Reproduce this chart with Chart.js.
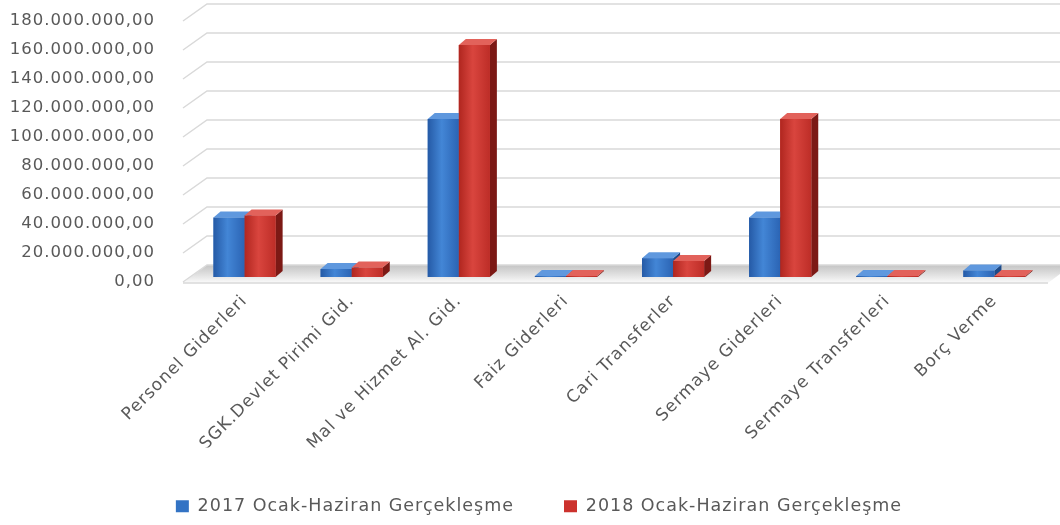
<!DOCTYPE html>
<html lang="tr">
<head>
<meta charset="utf-8">
<title>Ocak-Haziran Gerçekleşme</title>
<script src="https://cdn.jsdelivr.net/npm/chart.js@4.4.1/dist/chart.umd.min.js"></script>
<style>
  html, body { margin: 0; padding: 0; background: #fff; }
  #wrap { width: 1060px; height: 525px; }
</style>
</head>
<body>
<div id="wrap"><canvas id="giderChart"></canvas></div>
<script>
// Ekonomik sınıflandırmaya göre giderler (TL)
const categories = [
  'Personel Giderleri',
  'SGK.Devlet Pirimi Gid.',
  'Mal ve Hizmet Al. Gid.',
  'Faiz Giderleri',
  'Cari Transferler',
  'Sermaye Giderleri',
  'Sermaye Transferleri',
  'Borç Verme'
];
const gercek2017 = [41000000, 5500000, 109000000, 500000, 13000000, 41000000, 600000, 4500000];
const gercek2018 = [42500000, 6500000, 160000000, 300000, 11000000, 109000000, 600000, 300000];
const seriesNames = ['2017 Ocak-Haziran Gerçekleşme', '2018 Ocak-Haziran Gerçekleşme'];
const yTickValues = [0, 20000000, 40000000, 60000000, 80000000, 100000000, 120000000, 140000000, 160000000, 180000000];

// 180000000 -> "180.000.000,00"
function formatTL(v) {
  const s = String(Math.round(v)).replace(/\B(?=(\d{3})+(?!\d))/g, '.');
  return s + ',00';
}

const DX = 7, DY = 6;          // bar depth
const WALL_DX = 24;
const LEGEND_SHIFT = 15;
const styles = [
  { base: '#3373c4', front: ['#255aa6', '#4386d6', '#2b64b4'], side: '#1d4a88', top: '#5f98de' },
  { base: '#cc322d', front: ['#b0261f', '#d9453e', '#bd2d27'], side: '#7c1915', top: '#e2625b' }
];

// back wall grid, side wall and floor + 3D bar faces
const wallPlugin = {
  id: 'wall',
  beforeUpdate(chart) { chart.ctx.letterSpacing = '1px'; },
  afterLayout(chart) {
    chart.legend.left += LEGEND_SHIFT;
    chart.legend.right += LEGEND_SHIFT;
  },
  beforeDraw(chart) { chart.ctx.letterSpacing = '1px'; },
  beforeDatasetsDraw(chart) {
    const ctx = chart.ctx;
    const y = chart.scales.y;
    const L = chart.chartArea.left, R = chart.chartArea.right;
    const b = y.getPixelForValue(0);
    ctx.save();

    // floor
    const g = ctx.createLinearGradient(0, b - 12, 0, b + 6);
    g.addColorStop(0, '#c4c4c4');
    g.addColorStop(0.6, '#e4e4e4');
    g.addColorStop(1, '#fbfbfb');
    ctx.fillStyle = g;
    ctx.beginPath();
    ctx.moveTo(L - 8, b + 6);
    ctx.lineTo(R, b + 6);
    ctx.lineTo(R + WALL_DX, b - 12);
    ctx.lineTo(L + 16, b - 12);
    ctx.closePath();
    ctx.fill();

    ctx.strokeStyle = '#d9d9d9';
    ctx.lineWidth = 1.5;
    yTickValues.forEach(v => {
      const p = y.getPixelForValue(v);
      ctx.beginPath();
      ctx.moveTo(L - 8, p + 5);
      ctx.lineTo(L + 16, p - 12);
      ctx.lineTo(chart.width, p - 12);
      ctx.stroke();
    });
    // floor front edge
    ctx.beginPath();
    ctx.moveTo(L - 8, b + 6);
    ctx.lineTo(R, b + 6);
    ctx.stroke();
    ctx.restore();
  },
  afterDatasetsDraw(chart) {
    const ctx = chart.ctx;
    const metas = [chart.getDatasetMeta(0), chart.getDatasetMeta(1)];
    ctx.save();
    for (let i = 0; i < categories.length; i++) {
      metas.forEach((meta, d) => {
        const st = styles[d];
        const bar = meta.data[i];
        const { x, y, base, width } = bar.getProps(['x', 'y', 'base', 'width'], true);
        const l = x - width / 2, r = x + width / 2;
        const t = Math.min(y, base - 1);

        // right side
        ctx.fillStyle = st.side;
        ctx.beginPath();
        ctx.moveTo(r, t);
        ctx.lineTo(r + DX, t - DY);
        ctx.lineTo(r + DX, base - DY);
        ctx.lineTo(r, base);
        ctx.closePath();
        ctx.fill();

        // front
        const fg = ctx.createLinearGradient(l, 0, r, 0);
        fg.addColorStop(0, st.front[0]);
        fg.addColorStop(0.45, st.front[1]);
        fg.addColorStop(1, st.front[2]);
        ctx.fillStyle = fg;
        ctx.fillRect(l, t, width, base - t);

        // top
        ctx.fillStyle = st.top;
        ctx.beginPath();
        ctx.moveTo(l, t);
        ctx.lineTo(l + DX, t - DY);
        ctx.lineTo(r + DX, t - DY);
        ctx.lineTo(r, t);
        ctx.closePath();
        ctx.fill();
      });
    }
    ctx.restore();
  }
};

const labelColor = '#595959';
const ctx = document.getElementById('giderChart').getContext('2d');
const giderChart = new Chart(ctx, {
  type: 'bar',
  data: {
    labels: categories,
    datasets: [
      { label: seriesNames[0], data: gercek2017, backgroundColor: styles[0].base },
      { label: seriesNames[1], data: gercek2018, backgroundColor: styles[1].base }
    ]
  },
  options: {
    responsive: true,
    maintainAspectRatio: false,
    animation: false,
    layout: { padding: { top: 16, left: 0, right: 12, bottom: 0 } },
    datasets: { bar: { categoryPercentage: 0.58, barPercentage: 1 } },
    scales: {
      x: {
        grid: { display: false, drawTicks: false },
        border: { display: false },
        ticks: {
          color: labelColor,
          font: { family: 'DejaVu Sans', size: 17 },
          maxRotation: 45,
          minRotation: 45,
          padding: 14
        },
        afterFit(scale) {
          scale.height = scale.chart.height - 277 - scale.chart.legend.height;
        }
      },
      y: {
        min: 0,
        max: 180000000,
        grid: { display: false, drawTicks: false },
        border: { display: false },
        afterBuildTicks(scale) {
          scale.ticks = yTickValues.map(v => ({ value: v }));
        },
        afterFit(scale) {
          scale.width = 191;
          scale.paddingTop = 0;
          scale.paddingBottom = 0;
        },
        ticks: {
          color: labelColor,
          font: { family: 'DejaVu Sans', size: 16.5 },
          padding: 36,
          labelOffset: 5,
          callback: v => formatTL(v)
        }
      }
    },
    plugins: {
      legend: {
        position: 'bottom',
        labels: {
          color: labelColor,
          font: { family: 'DejaVu Sans', size: 17.5 },
          boxWidth: 13,
          boxHeight: 12,
          padding: 50
        }
      },
      tooltip: { enabled: false }
    }
  },
  plugins: [wallPlugin]
});
</script>
</body>
</html>
